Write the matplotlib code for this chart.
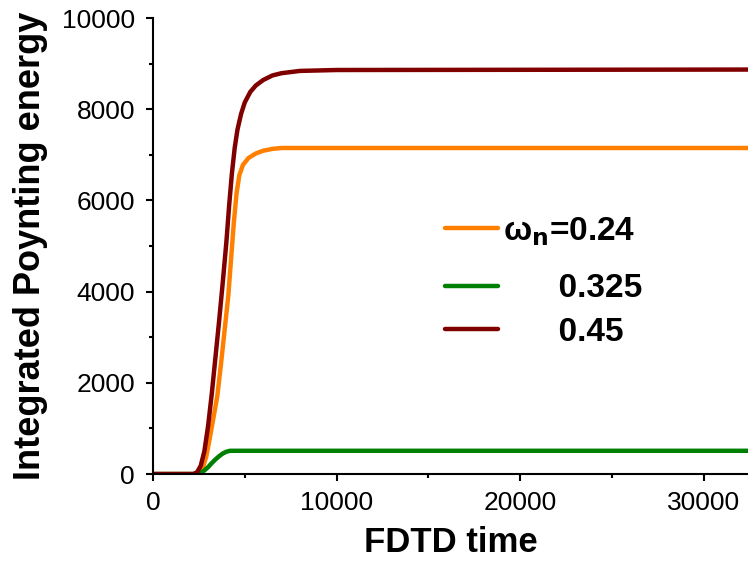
import numpy as np
import matplotlib
matplotlib.use('Agg')
import matplotlib.pyplot as plt
from matplotlib.ticker import MultipleLocator

plt.rcParams['font.family'] = ['Liberation Sans', 'DejaVu Sans']

# ── Dữ liệu ──
t_024 = [0, 2300, 2500, 2700, 2900, 3100, 3300, 3500, 3700, 3900, 4100, 4250, 4400, 4550, 4700, 4900,
         5200, 5600, 6000, 6500, 7000, 33000]
e_024 = [0, 0, 30, 120, 380, 800, 1250, 1700, 2400, 3150, 3900, 4700, 5500, 6150, 6550, 6780,
         6930, 7030, 7090, 7130, 7150, 7150]

t_0325 = [0, 2400, 2600, 2800, 3000, 3200, 3400, 3600, 3800, 4000, 4200, 33000]
e_0325 = [0, 0, 25, 80, 150, 240, 320, 390, 450, 490, 510, 510]

t_045 = [0, 2200, 2400, 2600, 2800, 3000, 3200, 3400, 3600, 3800, 4000, 4150, 4300, 4450, 4600, 4800,
         5000, 5300, 5600, 6000, 6500, 7000, 8000, 10000, 33000]
e_045 = [0, 0, 40, 180, 500, 1050, 1750, 2550, 3350, 4200, 5100, 5900, 6600, 7150, 7550, 7900,
         8150, 8380, 8520, 8640, 8740, 8790, 8840, 8860, 8870]

labels = [r'ω$_\mathbf{n}$=0.24', '      0.325', '      0.45']
colors = ['#ff8000', '#008000', '#800000']

fig = plt.figure(figsize=(7.48, 5.63), dpi=100)
ax = fig.add_axes([0.2045, 0.158, 0.7955, 0.81])

lines = []
for t, e, c, lab in zip([t_024, t_0325, t_045], [e_024, e_0325, e_045], colors, labels):
    ln, = ax.plot(t, e, color=c, lw=3.2, label=lab, solid_capstyle='round', solid_joinstyle='round')
    lines.append(ln)

ax.set_xlim(0, 32400)
ax.set_ylim(0, 10000)
ax.xaxis.set_major_locator(MultipleLocator(10000))
ax.xaxis.set_minor_locator(MultipleLocator(5000))
ax.yaxis.set_major_locator(MultipleLocator(2000))
ax.yaxis.set_minor_locator(MultipleLocator(1000))

for s in ['top', 'right']:
    ax.spines[s].set_visible(False)
for s in ['left', 'bottom']:
    ax.spines[s].set_linewidth(1.5)

ax.tick_params(which='major', direction='out', length=5, width=1.5, labelsize=19)
ax.tick_params(axis='x', which='major', pad=7)
ax.tick_params(axis='y', which='major', pad=8)
ax.tick_params(which='minor', direction='out', length=3, width=1.5)

ax.set_xlabel('FDTD time', fontsize=25, fontweight='bold', labelpad=8)
ax.set_ylabel('Integrated Poynting energy', fontsize=26, fontweight='bold', labelpad=10)

# chú thích: dòng đầu tách riêng để khoảng cách giống hình gốc
leg_kw = dict(frameon=False, loc='upper left', handlelength=1.6, handletextpad=0.15,
              borderaxespad=0, borderpad=0, prop={'size': 24, 'weight': 'bold'})
leg1 = ax.legend(handles=lines[:1], bbox_to_anchor=(0.491, 0.568), **leg_kw)
ax.add_artist(leg1)
leg2 = ax.legend(handles=lines[1:], bbox_to_anchor=(0.491, 0.44), labelspacing=0.38, **leg_kw)

fig.savefig('out.png', dpi=100)
